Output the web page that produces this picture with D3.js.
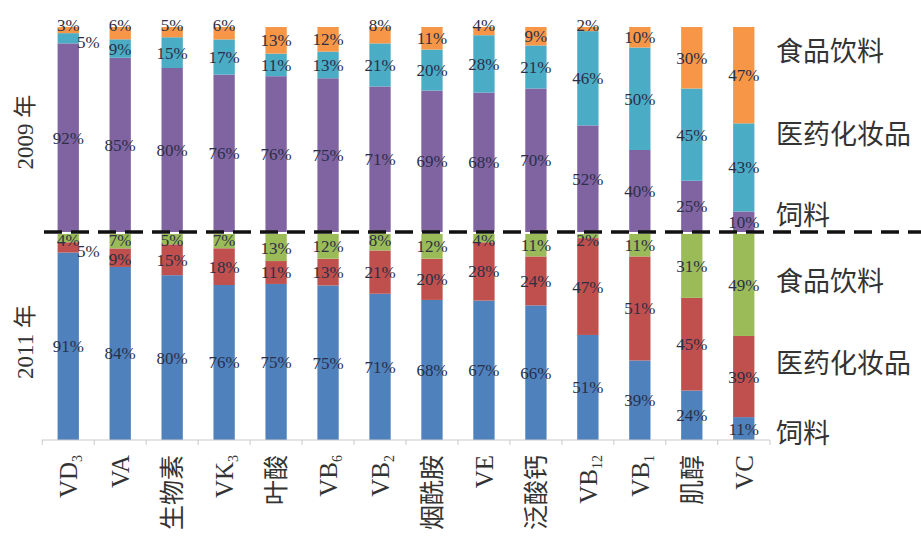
<!DOCTYPE html>
<html>
<head>
<meta charset="utf-8">
<script src="https://cdn.jsdelivr.net/npm/d3@7"></script>
<style>
  body { margin: 0; background: #fff; }
  svg { display: block; }
</style>
</head>
<body>
<svg id="chart" width="921" height="539"></svg>
<script>
// categories: [main text, subscript]
const categories = [
  ["VD", "3"], ["VA", ""], ["生物素", ""], ["VK", "3"], ["叶酸", ""], ["VB", "6"],
  ["VB", "2"], ["烟酰胺", ""], ["VE", ""], ["泛酸钙", ""], ["VB", "12"], ["VB", "1"],
  ["肌醇", ""], ["VC", ""]
];
const segments = ["饲料", "医药化妆品", "食品饮料"];

// 2009, percent
const feed2009   = [92, 85, 80, 76, 76, 75, 71, 69, 68, 70, 52, 40, 25, 10];
const pharma2009 = [5, 9, 15, 17, 11, 13, 21, 20, 28, 21, 46, 50, 45, 43];
const food2009   = [3, 6, 5, 6, 13, 12, 8, 11, 4, 9, 2, 10, 30, 47];

// 2011, percent
const feed2011   = [91, 84, 80, 76, 75, 75, 71, 68, 67, 66, 51, 39, 24, 11];
const pharma2011 = [5, 9, 15, 18, 11, 13, 21, 20, 28, 24, 47, 51, 45, 39];
const food2011   = [4, 7, 5, 7, 13, 12, 8, 12, 4, 11, 2, 11, 31, 49];

const colors2009 = ["#8064a2", "#4bacc6", "#f79646"];
const colors2011 = ["#4f81bd", "#c0504d", "#9bbb59"];

const svg = d3.select("#chart");
const serif = "'Liberation Serif', 'Times New Roman', serif";
const cjk = "'Noto Sans CJK SC', sans-serif";

const x = d3.scaleBand()
  .domain(d3.range(categories.length))
  .range([42, 770])
  .paddingInner(0.59)
  .paddingOuter(0.3);

const y2009 = d3.scaleLinear().domain([0, 1]).range([232, 27]);
const y2011 = d3.scaleLinear().domain([0, 1]).range([440, 234]);

function build(feed, pharma, food) {
  const rows = categories.map((c, i) => ({ i, 饲料: feed[i], 医药化妆品: pharma[i], 食品饮料: food[i] }));
  return d3.stack().keys(segments).offset(d3.stackOffsetExpand)(rows)
    .map((layer, k) => layer.map(d => ({ d0: d[0], d1: d[1], i: d.data.i, v: d.data[segments[k]], k })));
}

function drawYear(stack, y, colors, topPad) {
  const g = svg.append("g");
  g.selectAll("g").data(stack).join("g")
    .attr("fill", (d, k) => colors[k])
    .selectAll("rect").data(d => d).join("rect")
    .attr("x", d => x(d.i))
    .attr("width", x.bandwidth())
    .attr("y", d => y(d.d1))
    .attr("height", d => y(d.d0) - y(d.d1));

  // small food segments get their label at the bar top,
  // the pharma label below is pushed down so they don't collide
  function foodY(d) {
    return (d.d1 - d.d0) < 0.08 ? y(d.d1) + topPad : (y(d.d0) + y(d.d1)) / 2 + 6;
  }
  function labelY(d) {
    const h = d.d1 - d.d0;
    const mid = (y(d.d0) + y(d.d1)) / 2;
    if (d.k === 2) return foodY(d);
    if (d.k === 1) {
      if (h < 0.06) return mid + 10;
      return Math.max(mid + 6, foodY(stack[2][d.i]) + 19);
    }
    return mid + 6;
  }

  svg.append("g").selectAll("text").data(stack.flat()).join("text")
    .attr("x", d => {
      const cx = x(d.i) + x.bandwidth() / 2;
      return (d.d1 - d.d0) < 0.06 && d.k === 1 ? cx + 20 : cx;
    })
    .attr("y", labelY)
    .attr("text-anchor", "middle")
    .attr("font-family", serif)
    .attr("font-size", 17)
    .attr("fill", "#2b2f48")
    .text(d => d.v + "%");
}

drawYear(build(feed2009, pharma2009, food2009), y2009, colors2009, 4);
drawYear(build(feed2011, pharma2011, food2011), y2011, colors2011, 12);

// bottom axis
const axis = svg.append("g").attr("transform", "translate(0,440)");
axis.append("line")
  .attr("x1", x.range()[0]).attr("x2", x.range()[1])
  .attr("stroke", "#c8c8c8").attr("stroke-width", 1);
axis.selectAll("line.tick")
  .data(d3.range(categories.length + 1))
  .join("line").attr("class", "tick")
  .attr("x1", i => i < categories.length ? x(i) - x.step() * x.paddingInner() / 2 : x.range()[1])
  .attr("x2", i => i < categories.length ? x(i) - x.step() * x.paddingInner() / 2 : x.range()[1])
  .attr("y1", 0).attr("y2", 5)
  .attr("stroke", "#c8c8c8");

// category labels, rotated
const cat = svg.append("g").selectAll("text").data(categories).join("text")
  .attr("transform", (d, i) => `translate(${x(i) + x.bandwidth() / 2 + 9},455) rotate(-90)`)
  .attr("text-anchor", "end")
  .attr("font-size", 25)
  .attr("fill", "#333");
cat.append("tspan")
  .attr("font-family", d => /^V/.test(d[0]) ? serif : cjk)
  .text(d => d[0]);
cat.filter(d => d[1]).append("tspan")
  .attr("font-family", serif)
  .attr("font-size", 14)
  .attr("dy", 5)
  .text(d => d[1]);

// dashed separator
svg.append("line")
  .attr("x1", 44).attr("x2", 921)
  .attr("y1", 232).attr("y2", 232)
  .attr("stroke", "#111")
  .attr("stroke-width", 3.5)
  .attr("stroke-dasharray", "18,9");

// right-side segment names
const rightLabels = [
  { t: "食品饮料", y: 61 }, { t: "医药化妆品", y: 144 }, { t: "饲料", y: 225 },
  { t: "食品饮料", y: 291 }, { t: "医药化妆品", y: 373 }, { t: "饲料", y: 443 }
];
svg.append("g").selectAll("text").data(rightLabels).join("text")
  .attr("x", 776)
  .attr("y", d => d.y)
  .attr("font-family", cjk)
  .attr("font-size", 27)
  .attr("fill", "#333")
  .text(d => d.t);

// year labels on the left
const years = [{ t: "2009 年", y: 132 }, { t: "2011 年", y: 342 }];
svg.append("g").selectAll("text").data(years).join("text")
  .attr("transform", d => `translate(33,${d.y}) rotate(-90)`)
  .attr("text-anchor", "middle")
  .attr("font-size", 23)
  .attr("fill", "#333")
  .each(function(d) {
    const parts = d.t.split(" ");
    d3.select(this).append("tspan").attr("font-family", serif).text(parts[0] + " ");
    d3.select(this).append("tspan").attr("font-family", cjk).text(parts[1]);
  });
</script>
</body>
</html>
